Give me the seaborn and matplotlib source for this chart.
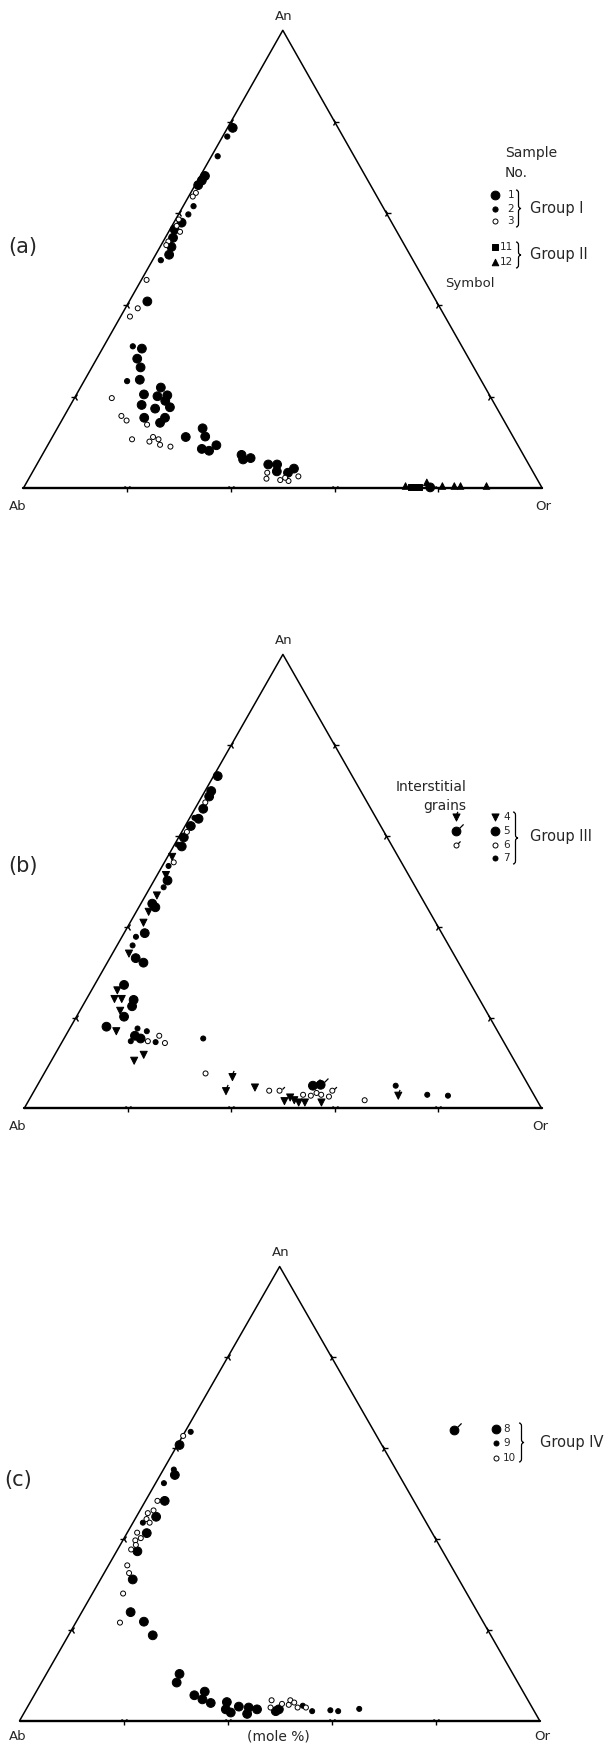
import numpy as np
import pandas as pd
import matplotlib.pyplot as plt
import seaborn as sns
from matplotlib.path import Path
from matplotlib.patches import PathPatch

sns.set_theme(style="white")
plt.rcParams['font.family'] = ['DejaVu Sans']

# ---- panel (a), mol% An and Or for each sample (Ab = 100 - An - Or)
a1_an = [78.7, 68.2, 67.2, 66.2, 58.0, 56.5, 54.7, 52.7, 51.0, 40.8, 30.5, 28.3, 26.4, 23.7,
         20.5, 22.0, 20.1, 20.3, 19.1, 17.7, 18.2, 17.4, 15.4, 15.4, 14.3, 11.2, 13.1, 11.3,
         8.6, 8.2, 9.4, 7.3, 6.3, 6.6, 5.2, 5.2, 3.7, 3.4, 4.3, 0.2]
a1_or = [1.0, 0.9, 0.8, 0.6, 1.5, 0.9, 1.5, 2.2, 2.6, 3.5, 7.6, 7.8, 9.4, 10.6,
         13.0, 15.5, 15.8, 17.6, 17.8, 19.4, 13.7, 16.7, 15.6, 19.6, 19.2, 25.7, 28.0, 29.4,
         30.1, 31.7, 32.5, 38.4, 39.2, 40.5, 44.6, 46.3, 47.0, 49.3, 50.0, 78.3]
a2_an = [76.8, 72.5, 61.6, 59.8, 49.8, 31.0, 23.4]
a2_or = [0.9, 1.2, 2.0, 1.9, 1.6, 5.6, 8.3]
a3_an = [64.5, 63.7, 58.7, 57.3, 56.0, 53.9, 53.1, 45.5, 39.3, 37.5, 19.7, 15.8, 14.8,
         13.9, 10.7, 10.2, 11.2, 10.7, 9.5, 9.1, 3.4, 2.1, 1.8, 1.6, 2.3, 2.6]
a3_or = [1.0, 0.8, 0.6, 0.9, 2.2, 1.0, 1.0, 1.0, 2.4, 1.8, 7.2, 11.0, 12.5,
         16.9, 15.6, 19.2, 19.4, 20.7, 21.6, 23.8, 45.3, 45.8, 48.6, 50.3, 49.3, 51.7]
a11_an = [0.3, 0.3, 0.3]
a11_or = [74.6, 75.3, 76.1]
a12_an = [0.5, 1.3, 0.5, 0.5, 0.5, 0.5]
a12_or = [73.4, 77.1, 80.5, 82.8, 84.0, 89.0]

# ---- panel (b)
b4_an = [55.4, 51.4, 46.9, 43.3, 40.9, 34.1, 26.0, 24.1, 24.1, 21.5, 17.0, 10.5, 11.8,
         4.6, 1.6, 2.4, 1.8, 1.3, 1.3, 1.3]
b4_or = [0.9, 1.7, 2.2, 2.4, 2.6, 3.2, 5.0, 5.4, 6.8, 7.8, 9.3, 16.0, 17.2,
         42.3, 49.5, 50.2, 51.3, 52.4, 53.6, 56.8]
b4i_an = [6.9, 3.8, 2.8]          # interstitial grains
b4i_or = [36.8, 37.1, 70.9]
b5_an = [73.2, 69.9, 68.7, 66.0, 63.8, 62.2, 59.7, 57.7, 50.2, 45.1, 44.3, 38.6, 33.1,
         32.1, 27.2, 23.9, 22.5, 20.2, 18.0, 16.0, 15.4]
b5_or = [0.8, 1.2, 1.4, 1.6, 1.8, 1.1, 1.0, 1.6, 2.6, 2.2, 3.2, 4.0, 5.0,
         7.0, 5.7, 9.2, 9.6, 9.2, 6.9, 13.4, 14.8]
b5i_an = [5.0, 5.2]
b5i_or = [53.3, 54.7]
b6_an = [67.4, 60.9, 54.2, 14.8, 16.0, 14.4, 7.7, 3.9, 3.0, 2.8, 3.4, 3.0, 2.6, 1.8]
b6_or = [1.3, 1.0, 1.8, 16.5, 18.1, 20.0, 31.2, 45.4, 52.4, 54.0, 54.8, 55.9, 57.6, 64.9]
b6i_an = [3.9, 3.9]
b6i_or = [47.4, 57.6]
b7_an = [64.0, 58.1, 53.4, 48.7, 37.8, 35.9, 17.6, 17.0, 14.8, 14.6, 15.4, 5.0, 3.0, 2.8]
b7_or = [0.9, 0.6, 1.2, 2.6, 2.7, 3.0, 13.1, 15.2, 13.2, 18.1, 26.9, 69.3, 76.4, 80.5]

# ---- panel (c)
c8_an = [60.7, 54.1, 48.4, 44.9, 41.3, 37.3, 31.1, 23.9, 21.8, 18.8, 10.3, 8.4, 5.6,
         6.4, 4.7, 3.9, 4.1, 2.5, 1.8, 3.1, 2.9, 1.5, 2.5, 2.1, 2.5]
c8_or = [0.4, 2.8, 3.7, 3.8, 3.8, 4.0, 6.2, 9.4, 13.0, 16.2, 25.6, 26.0, 30.8,
         32.4, 32.8, 34.8, 37.8, 38.4, 39.7, 40.6, 42.6, 43.0, 44.4, 48.2, 48.6]
c9_an = [63.6, 55.3, 52.3, 43.6, 3.3, 2.1, 2.3, 2.1, 2.6]
c9_or = [1.1, 2.0, 1.6, 1.9, 52.8, 55.2, 58.6, 60.2, 64.0]
c10_an = [62.7, 48.4, 46.3, 45.7, 44.4, 43.6, 41.4, 40.2, 39.7, 38.7, 37.7, 34.2, 32.5,
          28.0, 21.6, 4.5, 2.9, 3.7, 3.5, 4.5, 4.0, 2.9, 2.9]
c10_or = [0.1, 2.3, 2.6, 1.8, 2.2, 3.2, 1.9, 3.2, 2.4, 3.0, 2.6, 3.6, 4.8,
          5.9, 8.5, 46.2, 46.8, 48.6, 50.0, 49.8, 50.8, 52.0, 53.6]

ticks = [20, 40, 60, 80]

# marker, size (pt^2), face colour per sample number
STYLE = {
    '1': ('o', 40, 'black'), '2': ('o', 14, 'black'), '3': ('o', 13, 'white'),
    '11': ('s', 16, 'black'), '12': ('^', 22, 'black'),
    '4': ('v', 26, 'black'), '5': ('o', 40, 'black'), '6': ('o', 13, 'white'),
    '7': ('o', 13, 'black'),
    '8': ('o', 40, 'black'), '9': ('o', 13, 'black'), '10': ('o', 13, 'white'),
}

TAIL = Path([(0.45, 0.45), (1.0, 1.0)], [Path.MOVETO, Path.LINETO])
TAIL_UP = Path([(0.0, 0.45), (0.25, 1.0)], [Path.MOVETO, Path.LINETO])

FIG_W, FIG_H = 610, 1745
# pixel geometry of each triangle: band (top, bottom), Ab corner, base width, height
PANELS = [
    dict(band=(0, 565), corner=(23.3, 488.3), width=519.0, height=458.0),
    dict(band=(565, 1150), corner=(24.2, 1108.4), width=517.4, height=454.0),
    dict(band=(1150, 1745), corner=(19.6, 1720.7), width=520.1, height=454.2),
]


def to_frame(groups):
    rows = []
    for name, an, orr in groups:
        for a, o in zip(an, orr):
            rows.append((name, a, o))
    df = pd.DataFrame(rows, columns=['sample', 'An', 'Or'])
    df['x'] = df['Or'] + df['An'] / 2
    return df


def make_panel(fig, p):
    top, bot = p['band']
    x0, yb = p['corner']
    ax = fig.add_axes([0, 1 - bot / FIG_H, 1, (bot - top) / FIG_H])
    ax.set_xlim(-x0 / p['width'] * 100, (FIG_W - x0) / p['width'] * 100)
    ax.set_ylim(-(bot - yb) / p['height'] * 100, (yb - top) / p['height'] * 100)
    ax.axis('off')
    # triangle frame
    ax.plot([100, 50, 0], [0, 100, 0], color='black', lw=1.1)
    ax.plot([0, 100], [0, 0], color='black', lw=1.7)
    t = np.array(ticks)
    ax.plot(t, np.zeros(4), ls='none', marker='1', ms=6, mew=1, color='black')
    ax.plot(t / 2, t, ls='none', marker='3', ms=6, mew=1, color='black')
    ax.plot(100 - t / 2, t, ls='none', marker='4', ms=6, mew=1, color='black')
    return ax


def frac(p, px, py):
    top, bot = p['band']
    return px / FIG_W, (bot - py) / (bot - top)


def text(ax, p, px, py, s, size=10, ha='center', **kw):
    fx, fy = frac(p, px, py)
    ax.text(fx, fy, s, transform=ax.transAxes, ha=ha, va='center', fontsize=size, **kw)


def key(ax, p, px, py, name, tail=None):
    m, s, fc = STYLE[name]
    fx, fy = frac(p, px, py)
    ax.scatter([fx], [fy], marker=m, s=s, facecolor=fc, edgecolor='black', lw=0.7,
               transform=ax.transAxes, zorder=4)
    if tail is not None:
        ax.scatter([fx], [fy], marker=tail, s=s * 2.6, facecolor='black', edgecolor='black',
                   lw=0.9, transform=ax.transAxes, zorder=4)


def brace(ax, p, x, y0, y1, w=5, d=3):
    ym = (y0 + y1) / 2
    h = x + w / 2
    pts = [(x, y0), (h, y0), (h, y0 + d), (h, ym - d), (h, ym), (x + w, ym),
           (h, ym), (h, ym + d), (h, y1 - d), (h, y1), (x, y1)]
    codes = [Path.MOVETO, Path.CURVE3, Path.CURVE3, Path.LINETO, Path.CURVE3, Path.CURVE3,
             Path.CURVE3, Path.CURVE3, Path.LINETO, Path.CURVE3, Path.CURVE3]
    verts = [frac(p, a, b) for a, b in pts]
    ax.add_patch(PathPatch(Path(verts, codes), transform=ax.transAxes, fill=False,
                           lw=0.9, color='black'))


def draw_points(ax, df):
    names = list(dict.fromkeys(df['sample']))
    sns.scatterplot(data=df, x='x', y='An', hue='sample', style='sample', size='sample',
                    palette={n: STYLE[n][2] for n in names},
                    markers={n: STYLE[n][0] for n in names},
                    sizes={n: STYLE[n][1] for n in names},
                    edgecolor='black', linewidth=0.7, legend=False, ax=ax, zorder=3)


def draw_tails(ax, df, marker, s):
    sns.scatterplot(data=df, x='x', y='An', marker=marker, s=s, color='black',
                    edgecolor='black', linewidth=0.9, legend=False, ax=ax, zorder=3)


fig = plt.figure(figsize=(FIG_W / 100, FIG_H / 100), dpi=100)

# ---------------- (a)
pa = PANELS[0]
ax = make_panel(fig, pa)
dfa = to_frame([('1', a1_an, a1_or), ('2', a2_an, a2_or), ('3', a3_an, a3_or),
                ('11', a11_an, a11_or), ('12', a12_an, a12_or)])
draw_points(ax, dfa)
text(ax, pa, 284, 17, 'An', 9.5)
text(ax, pa, 18, 506, 'Ab', 9.5)
text(ax, pa, 543, 506, 'Or', 9.5)
text(ax, pa, 8, 247, '(a)', 15, ha='left')
text(ax, pa, 505, 153, 'Sample', 10, ha='left')
text(ax, pa, 505, 173, 'No.', 10, ha='left')
for name, y in [('1', 195), ('2', 209), ('3', 221), ('11', 247), ('12', 262)]:
    key(ax, pa, 495, y, name)
    text(ax, pa, 514 if len(name) == 1 else 513, y, name, 7.5, ha='right')
brace(ax, pa, 516, 190, 227)
brace(ax, pa, 516, 242, 268)
text(ax, pa, 530, 209, 'Group I', 10.5, ha='left')
text(ax, pa, 530, 254, 'Group II', 10.5, ha='left')
text(ax, pa, 445, 283, 'Symbol', 9.5, ha='left')

# ---------------- (b)
pb = PANELS[1]
ax = make_panel(fig, pb)
dfb = to_frame([('4', b4_an + b4i_an, b4_or + b4i_or), ('5', b5_an + b5i_an, b5_or + b5i_or),
                ('6', b6_an + b6i_an, b6_or + b6i_or), ('7', b7_an, b7_or)])
draw_points(ax, dfb)
draw_tails(ax, to_frame([('4', b4i_an, b4i_or)]), TAIL_UP, 90)
draw_tails(ax, to_frame([('5', b5i_an, b5i_or)]), TAIL, 100)
draw_tails(ax, to_frame([('6', b6i_an, b6i_or)]), TAIL, 40)
text(ax, pb, 284, 641, 'An', 9.5)
text(ax, pb, 18, 1127, 'Ab', 9.5)
text(ax, pb, 540, 1127, 'Or', 9.5)
text(ax, pb, 8, 866, '(b)', 15, ha='left')
text(ax, pb, 466, 787, 'Interstitial', 10, ha='right')
text(ax, pb, 466, 806, 'grains', 10, ha='right')
key(ax, pb, 456, 817, '4', TAIL_UP)
key(ax, pb, 456, 831, '5', TAIL)
key(ax, pb, 456, 845, '6', TAIL)
for name, y in [('4', 817), ('5', 831), ('6', 845), ('7', 858)]:
    key(ax, pb, 495, y, name)
    text(ax, pb, 503, y, name, 7.5, ha='left')
brace(ax, pb, 513, 812, 864)
text(ax, pb, 530, 837, 'Group III', 10.5, ha='left')

# ---------------- (c)
pc = PANELS[2]
ax = make_panel(fig, pc)
dfc = to_frame([('8', c8_an, c8_or), ('9', c9_an, c9_or), ('10', c10_an, c10_or)])
draw_points(ax, dfc)
text(ax, pc, 281, 1252, 'An', 9.5)
text(ax, pc, 18, 1737, 'Ab', 9.5)
text(ax, pc, 278, 1737, '(mole %)', 10)
text(ax, pc, 542, 1737, 'Or', 9.5)
text(ax, pc, 4, 1480, '(c)', 15, ha='left')
key(ax, pc, 454, 1430, '8', TAIL)
for name, y in [('8', 1429), ('9', 1443), ('10', 1458)]:
    key(ax, pc, 496, y, name)
    text(ax, pc, 503, y, name, 7.5, ha='left')
brace(ax, pc, 519, 1423, 1462)
text(ax, pc, 540, 1443, 'Group IV', 10.5, ha='left')

fig.savefig('out.png', dpi=100)
